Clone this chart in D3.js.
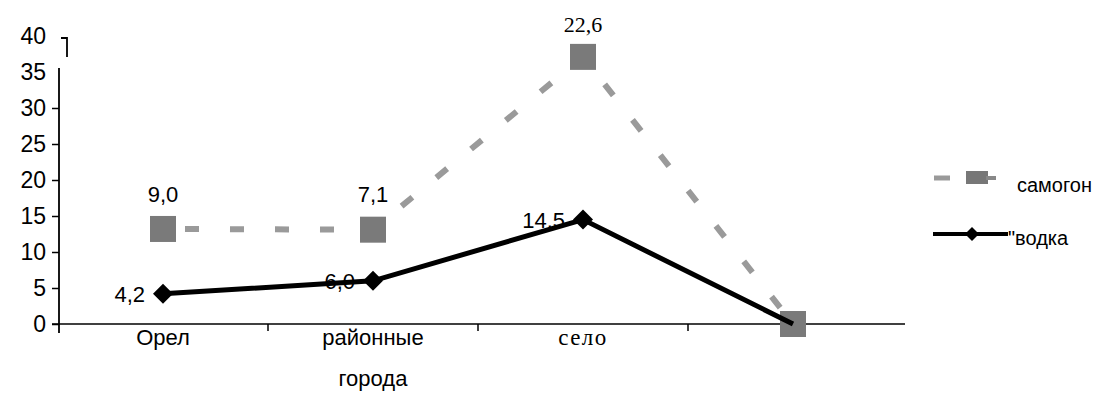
<!DOCTYPE html>
<html><head><meta charset="utf-8">
<script src="https://cdn.jsdelivr.net/npm/d3@7"></script>
<style>body{margin:0;background:#fff}svg{display:block}</style>
</head><body>
<svg id="c" width="1096" height="413"></svg>
<script>
const categories = ["Орел", "районные\nгорода", "село", ""];
const vodka = [4.2, 6.0, 14.5, 0];
const samogon = [9.0, 7.1, 22.6, 0];
const vodkaLabels = ["4,2", "6,0", "14,5", null];
const samogonLabels = ["9,0", "7,1", "22,6", null];
const yTicks = [0, 5, 10, 15, 20, 25, 30, 35, 40];
const seriesNames = ["самогон", "\"водка"];

const svg = d3.select("#c");
const x = d3.scaleBand().domain(d3.range(categories.length)).range([58, 898]);
const cx = i => x(i) + x.bandwidth() / 2;
const y = d3.scaleLinear().domain([0, 40]).range([324, 36]);
const stacked = samogon.map((v, i) => v + vodka[i]);
const sans = "Liberation Sans, Arial, sans-serif";
const serif = "Liberation Serif, Times New Roman, serif";

// Y axis
const ya = svg.append("g").attr("transform", "translate(59,0)")
  .call(d3.axisLeft(y).tickValues(yTicks).tickSize(7).tickPadding(6).tickFormat(d => d));
ya.select(".domain").remove();
ya.selectAll(".tick line").attr("stroke", "#000").attr("stroke-width", 1.5)
  .attr("display", d => d >= 35 ? "none" : null);
ya.selectAll(".tick text").attr("font-family", sans).attr("font-size", 23).attr("fill", "#000");
svg.append("line").attr("x1", 59).attr("x2", 59).attr("y1", y(35) - 4).attr("y2", y(0) + 9)
  .attr("stroke", "#000").attr("stroke-width", 1.8);
svg.append("path").attr("d", `M61,${y(40) + 2} H67 V${y(40) + 21}`).attr("fill", "none")
  .attr("stroke", "#000").attr("stroke-width", 1.8);

// X axis
svg.append("line").attr("x1", 52).attr("x2", 905).attr("y1", y(0)).attr("y2", y(0))
  .attr("stroke", "#000").attr("stroke-width", 1.5);
svg.selectAll(".xt").data(d3.range(1, categories.length)).join("line")
  .attr("x1", i => x(i)).attr("x2", i => x(i)).attr("y1", y(0)).attr("y2", y(0) + 7)
  .attr("stroke", "#000").attr("stroke-width", 1.5);
categories.forEach((c, i) => {
  const lines = c.split("\n");
  const t = svg.append("text").attr("x", cx(i)).attr("y", 345).attr("text-anchor", "middle")
    .attr("font-family", i === 2 ? serif : sans).attr("font-size", i === 2 ? 23 : 22)
    .attr("letter-spacing", i === 2 ? 1.5 : 0).attr("fill", "#000");
  lines.forEach((l, k) => t.append("tspan").attr("x", cx(i)).attr("dy", k ? 41 : 0).text(l));
});

// samogon (stacked) dashed line
const line = d3.line().x((d, i) => cx(i)).y(d => y(d));
svg.append("path").datum(stacked).attr("d", line).attr("fill", "none")
  .attr("stroke", "#9a9a9a").attr("stroke-width", 6).attr("stroke-dasharray", "14,31")
  .attr("stroke-dashoffset", -22);
svg.selectAll(".sq").data(stacked).join("rect")
  .attr("x", (d, i) => cx(i) - 13).attr("y", d => y(d) - 13).attr("width", 26).attr("height", 26)
  .attr("fill", "#7a7a7a");

// vodka line
svg.append("path").datum(vodka).attr("d", line).attr("fill", "none")
  .attr("stroke", "#000").attr("stroke-width", 5);
const diamond = (px, py, r) => `M${px},${py - r}L${px + r},${py}L${px},${py + r}L${px - r},${py}Z`;
svg.selectAll(".dm").data(vodka.slice(0, 3)).join("path")
  .attr("d", (d, i) => diamond(cx(i), y(d), 10)).attr("fill", "#000");

// labels
samogonLabels.forEach((l, i) => {
  if (!l) return;
  svg.append("text").attr("x", cx(i)).attr("y", i === 2 ? 32 : 202).attr("text-anchor", "middle")
    .attr("font-family", i === 2 ? serif : sans).attr("font-size", 22).text(l);
});
vodkaLabels.forEach((l, i) => {
  if (!l) return;
  svg.append("text").attr("x", cx(i) - 18).attr("y", y(vodka[i]) + 8).attr("text-anchor", "end")
    .attr("font-family", sans).attr("font-size", 22).text(l);
});

// legend
svg.append("line").attr("x1", 934).attr("x2", 950).attr("y1", 178).attr("y2", 178)
  .attr("stroke", "#9a9a9a").attr("stroke-width", 5);
svg.append("rect").attr("x", 966).attr("y", 171).attr("width", 22).attr("height", 13).attr("fill", "#777");
svg.append("line").attr("x1", 986).attr("x2", 996).attr("y1", 178).attr("y2", 178)
  .attr("stroke", "#888").attr("stroke-width", 4);
svg.append("text").attr("x", 1017).attr("y", 192).attr("font-family", sans).attr("font-size", 20).text(seriesNames[0]);
svg.append("line").attr("x1", 933).attr("x2", 1008).attr("y1", 234).attr("y2", 234)
  .attr("stroke", "#000").attr("stroke-width", 4);
svg.append("path").attr("d", diamond(972, 234, 7)).attr("fill", "#000");
svg.append("text").attr("x", 1008).attr("y", 245).attr("font-family", sans).attr("font-size", 20).text(seriesNames[1]);
</script>
</body></html>
